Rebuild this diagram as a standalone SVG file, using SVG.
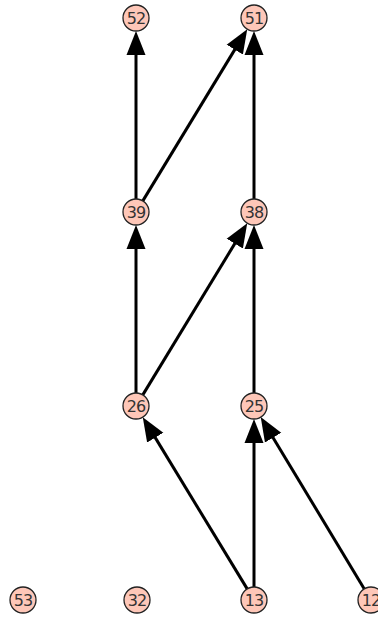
<svg xmlns="http://www.w3.org/2000/svg" width="378" height="617" viewBox="0 0 378 617">
<style>
.n circle{fill:#fec7b8;stroke:#222;stroke-width:1.3}
.n text{font-family:"DejaVu Sans",sans-serif;font-size:16px;letter-spacing:-1px;fill:#333;text-anchor:middle;dominant-baseline:central}
.e line{stroke:#000;stroke-width:3;marker-end:url(#ah)}
</style>
<defs>
<marker id="ah" markerUnits="userSpaceOnUse" markerWidth="24" markerHeight="20" refX="12" refY="9.5" orient="auto" viewBox="0 0 24 19">
<path d="M0,0 L24,9.5 L0,19 z" fill="#000"/>
</marker>
</defs>
<rect width="378" height="617" fill="#fff"/>
<g id="edges" class="e">
<line x1="136" y1="199" x2="136" y2="43"/>
<line x1="142.8" y1="200.9" x2="241" y2="39.4"/>
<line x1="254" y1="199" x2="254" y2="43"/>
<line x1="136" y1="393" x2="136" y2="237"/>
<line x1="142.8" y1="394.9" x2="241" y2="233.4"/>
<line x1="254" y1="393" x2="254" y2="237"/>
<line x1="247.2" y1="588.9" x2="149" y2="427.4"/>
<line x1="254" y1="587" x2="254" y2="431"/>
<line x1="364.3" y1="588.9" x2="266.9" y2="427.4"/>
</g>
<g id="n52" class="n"><circle cx="136" cy="18" r="13"/><text x="136" y="18">52</text></g>
<g id="n51" class="n"><circle cx="254" cy="18" r="13"/><text x="254" y="18">51</text></g>
<g id="n39" class="n"><circle cx="136" cy="212" r="13"/><text x="136" y="212">39</text></g>
<g id="n38" class="n"><circle cx="254" cy="212" r="13"/><text x="254" y="212">38</text></g>
<g id="n26" class="n"><circle cx="136" cy="406" r="13"/><text x="136" y="406">26</text></g>
<g id="n25" class="n"><circle cx="254" cy="406" r="13"/><text x="254" y="406">25</text></g>
<g id="n53" class="n"><circle cx="23" cy="600" r="13"/><text x="23" y="600">53</text></g>
<g id="n32" class="n"><circle cx="137" cy="600" r="13"/><text x="137" y="600">32</text></g>
<g id="n13" class="n"><circle cx="254" cy="600" r="13"/><text x="254" y="600">13</text></g>
<g id="n12" class="n"><circle cx="371" cy="600" r="13"/><text x="371" y="600">12</text></g>
</svg>
